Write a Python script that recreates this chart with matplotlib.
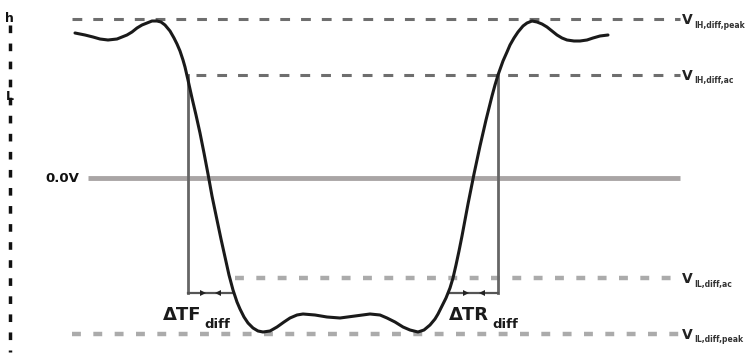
import matplotlib
matplotlib.use("Agg")
import matplotlib.pyplot as plt

# Waveform (diagram units: x to the right, y downward, as in the picture)
curve_x = [75, 85, 93, 100, 108, 117, 122, 127, 132, 137, 142, 147, 152, 157, 161, 165, 170, 174, 177, 180,
           183, 185, 188, 192, 196, 200, 204, 208, 212, 217, 221, 225, 229, 233, 237, 240, 244, 248, 253, 258,
           263, 270, 277, 284, 290, 297, 303, 315, 327, 340, 355, 370, 380, 387, 395, 403, 410, 418, 424, 430,
           435, 438, 442, 446, 450, 453, 456, 459, 462, 465, 468, 471, 474, 477, 480, 483, 486, 489, 492, 495,
           498, 503, 507, 510, 514, 518, 523, 527, 532, 537, 542, 547, 552, 557, 562, 567, 574, 580, 587, 593,
           600, 608]
curve_y = [33, 35, 37, 39, 40, 39, 37, 35, 32, 28, 25, 23, 21, 21, 22, 25, 31, 38, 44, 51,
           60, 67, 80, 98, 115, 133, 153, 174, 196, 220, 239, 257, 275, 290, 302, 309, 317, 323, 328, 331,
           332, 331, 327, 322, 318, 315, 314, 315, 317, 318, 316, 314, 315, 318, 322, 327, 330, 332, 330, 325,
           319, 314, 306, 298, 288, 278, 265, 251, 236, 220, 204, 189, 174, 160, 146, 133, 120, 108, 96, 85,
           75, 61, 52, 45, 38, 32, 26, 23, 21, 22, 24, 27, 31, 35, 38, 40, 41, 41, 40, 38,
           36, 35]

# Reference levels
level_names = ["IH,diff,peak", "IH,diff,ac", "IL,diff,ac", "IL,diff,peak"]
level_y = [19, 75, 278, 334]
level_x0 = [72, 196, 235, 72]
zero_y = 178
zero_label = "0.0V"
tf_x = [188, 232]
tr_x = [449, 498]
meas_y = 293

fig = plt.figure(figsize=(7.51, 3.55), dpi=100)
ax = fig.add_axes([0, 0, 1, 1])
ax.set_xlim(0, 751)
ax.set_ylim(355, 0)
ax.axis("off")

x_end = 680
# dashed (upper) and dotted (lower) levels
for i, (nm, yv, x0) in enumerate(zip(level_names, level_y, level_x0)):
    if i < 2:
        ax.plot([x0, x_end], [yv, yv], color="#6e6e6e", lw=2.2, dashes=(3.2, 3.6), solid_capstyle="butt")
    else:
        ax.plot([x0, x_end], [yv, yv], color="#ababab", lw=3.2, dashes=(2.0, 2.8), solid_capstyle="butt")
    ax.text(682, yv + 1, "V", fontsize=10, fontweight="bold", color="#222222", va="center", ha="left",
            family="DejaVu Sans")
    ax.text(694, yv + 6, nm, fontsize=5.5, fontweight="bold", color="#333333", va="center", ha="left",
            family="DejaVu Sans")

# 0V line
ax.plot([88, x_end], [zero_y, zero_y], color="#a9a5a5", lw=3.5, solid_capstyle="butt")
ax.text(45, zero_y, zero_label, fontsize=9.5, fontweight="bold", color="#111111", va="center", ha="left",
        family="DejaVu Sans")

# vertical measurement lines
ax.plot([tf_x[0], tf_x[0]], [level_y[1], meas_y], color="#666666", lw=2)
ax.plot([tr_x[1], tr_x[1]], [level_y[1], meas_y], color="#666666", lw=2)
for (xa, xb) in (tf_x, tr_x):
    ax.plot([xa, xb], [meas_y, meas_y], color="#555555", lw=1.6)
    ax.plot([xa + (xb - xa) * 0.35], [meas_y], marker=">", ms=4, color="#222222", mew=0)
    ax.plot([xa + (xb - xa) * 0.68], [meas_y], marker="<", ms=4, color="#222222", mew=0)

# waveform
ax.plot(curve_x, curve_y, color="#1a1a1a", lw=2.2, solid_joinstyle="round", solid_capstyle="round")

# delta labels
ax.text(163, 320, "ΔTF", fontsize=13, fontweight="bold", color="#1a1a1a", va="baseline", ha="left",
        family="DejaVu Sans")
ax.text(204, 328, "diff", fontsize=9.5, fontweight="bold", color="#1a1a1a", va="baseline", ha="left",
        family="DejaVu Sans")
ax.text(449, 320, "ΔTR", fontsize=13, fontweight="bold", color="#1a1a1a", va="baseline", ha="left",
        family="DejaVu Sans")
ax.text(492, 328, "diff", fontsize=9.5, fontweight="bold", color="#1a1a1a", va="baseline", ha="left",
        family="DejaVu Sans")

# left dotted axis with letters
ax.plot([10, 10], [25, 352], color="#111111", lw=2.5, dashes=(2.2, 3.0))
ax.text(5, 18, "h", fontsize=9, fontweight="bold", color="#111111", va="center", ha="left", family="DejaVu Sans")
ax.text(6, 97, "L", fontsize=9, fontweight="bold", color="#111111", va="center", ha="left", family="DejaVu Sans")

fig.savefig("out.png", dpi=100)
